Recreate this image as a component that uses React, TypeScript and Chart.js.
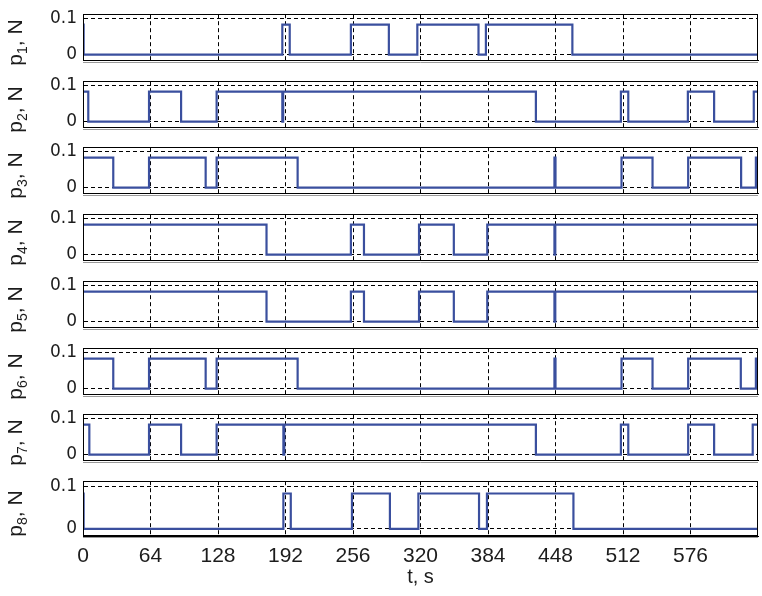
import React, { useEffect, useRef } from 'react';
import { Chart, registerables } from 'chart.js';

Chart.register(...registerables);

// ---------- data ----------
const xTickValues = [0, 64, 128, 192, 256, 320, 384, 448, 512, 576];
const yTickValues = [0, 0.1];
const xMin = 0;
const xMax = 640;
const yMin = -0.017;
const yMax = 0.112;

// switching instants (s) and the level held from each instant (N)
const p1Times = [0, 0.6, 189, 196, 254, 290, 317, 375, 382, 464, 640];
const p1Levels = [0.083, 0, 0.083, 0, 0.083, 0, 0.083, 0, 0.083, 0, 0];

const p2Times = [0, 5, 62.6, 93, 126.7, 189, 189.8, 429.4, 510, 517, 573.5, 598.4, 636, 640];
const p2Levels = [0.083, 0, 0.083, 0, 0.083, 0, 0.083, 0, 0.083, 0, 0.083, 0, 0.083, 0.083];

const p3Times = [0, 28.7, 62.6, 116.3, 126.7, 203.5, 447, 448, 510.6, 540, 573.8, 624, 638, 640];
const p3Levels = [0.083, 0, 0.083, 0, 0.083, 0, 0.083, 0, 0.083, 0, 0.083, 0, 0.083, 0.083];

const p4Times = [0, 174, 254, 266.4, 318.6, 351.6, 383.3, 447, 447.8, 640];
const p4Levels = [0.083, 0, 0.083, 0, 0.083, 0, 0.083, 0, 0.083, 0.083];

const p5Times = [0, 174, 254, 266.4, 318.6, 351.6, 383.3, 447, 447.8, 640];
const p5Levels = [0.083, 0, 0.083, 0, 0.083, 0, 0.083, 0, 0.083, 0.083];

const p6Times = [0, 28.7, 62.6, 116.3, 126.7, 203.5, 447, 448, 510.6, 540, 573.8, 623.7, 638, 640];
const p6Levels = [0.083, 0, 0.083, 0, 0.083, 0, 0.083, 0, 0.083, 0, 0.083, 0, 0.083, 0.083];

const p7Times = [0, 6, 62.6, 93, 126.7, 190, 190.8, 429.4, 510, 517, 573.8, 598.4, 635, 640];
const p7Levels = [0.083, 0, 0.083, 0, 0.083, 0, 0.083, 0, 0.083, 0, 0.083, 0, 0.083, 0.083];

const p8Times = [0, 0.6, 190, 197, 255, 291, 318, 375.5, 383, 465, 640];
const p8Levels = [0.083, 0, 0.083, 0, 0.083, 0, 0.083, 0, 0.083, 0, 0];

const seriesTimes = [p1Times, p2Times, p3Times, p4Times, p5Times, p6Times, p7Times, p8Times];
const seriesLevels = [p1Levels, p2Levels, p3Levels, p4Levels, p5Levels, p6Levels, p7Levels, p8Levels];
const seriesSubscripts = ['1', '2', '3', '4', '5', '6', '7', '8'];
const xTitle = 't, s';

// ---------- layout / style ----------
const W = 762;
const PANEL_TOPS = [6, 73, 139, 206, 273, 340, 406, 473];
const PANEL_H = 63;
const PAD_TOP = 8;
const PAD_BOTTOM = 8;
const LEFT = 83;
const RIGHT_PAD = 4;
const LINE_COLOR = '#3a4f9e';
const TEXT_COLOR = '#1c1c1c';
const FONT = '"Liberation Sans", Arial, sans-serif';

function framePlugin(sub: string) {
  return {
    id: 'frame' + sub,
    afterDraw(chart: any) {
      const { ctx, chartArea } = chart;
      const { left, right, top, bottom } = chartArea;
      ctx.save();
      ctx.strokeStyle = '#000';
      ctx.lineWidth = 1;
      ctx.setLineDash([]);
      ctx.strokeRect(Math.round(left) + 0.5, Math.round(top) + 0.5, Math.round(right - left) - 1, Math.round(bottom - top) - 1);
      ctx.strokeStyle = '#9a9a9a';
      ctx.beginPath();
      ctx.moveTo(left, Math.round(bottom) + 1.5);
      ctx.lineTo(right, Math.round(bottom) + 1.5);
      ctx.stroke();

      // y-axis title with subscript
      const cy = (top + bottom) / 2 + 5;
      ctx.translate(22, cy);
      ctx.rotate(-Math.PI / 2);
      ctx.fillStyle = TEXT_COLOR;
      ctx.textBaseline = 'alphabetic';
      ctx.textAlign = 'left';
      const big = '21px ' + FONT;
      const small = '14px ' + FONT;
      ctx.font = big;
      const wP = ctx.measureText('p').width;
      const wRest = ctx.measureText(', N').width;
      ctx.font = small;
      const wSub = ctx.measureText(sub).width;
      const total = wP + wSub + wRest;
      let x = -total / 2;
      ctx.font = big;
      ctx.fillText('p', x, 0);
      x += wP;
      ctx.font = small;
      ctx.fillText(sub, x, 5);
      x += wSub;
      ctx.font = big;
      ctx.fillText(', N', x, 0);
      ctx.restore();
    },
  };
}

function Panel({ index }: { index: number }) {
  const ref = useRef<HTMLCanvasElement | null>(null);
  const isLast = index === seriesTimes.length - 1;
  const xAxisH = isLast ? 60 : 0;
  const height = PAD_TOP + PANEL_H + (isLast ? xAxisH : PAD_BOTTOM);

  useEffect(() => {
    const canvas = ref.current;
    if (!canvas) return;
    const times = seriesTimes[index];
    const levels = seriesLevels[index];
    const data = times.map((t, i) => ({ x: t, y: levels[i] }));
    const chart = new Chart(canvas, {
      type: 'line',
      data: {
        datasets: [
          {
            data,
            stepped: 'before',
            borderColor: LINE_COLOR,
            borderWidth: 2.2,
            pointRadius: 0,
            fill: false,
          },
        ],
      },
      options: {
        animation: false,
        responsive: false,
        maintainAspectRatio: false,
        devicePixelRatio: 1,
        events: [],
        layout: {
          padding: { left: 0, right: RIGHT_PAD, top: PAD_TOP, bottom: isLast ? 0 : PAD_BOTTOM },
        },
        plugins: { legend: { display: false }, tooltip: { enabled: false }, title: { display: false } },
        scales: {
          x: {
            type: 'linear',
            min: xMin,
            max: xMax,
            afterBuildTicks: (s: any) => {
              s.ticks = xTickValues.map((v) => ({ value: v }));
            },
            afterFit: (s: any) => {
              s.height = xAxisH;
            },
            grid: { color: '#000', lineWidth: 1, drawTicks: false },
            border: { display: true, color: '#000', width: 1, dash: [4, 3] },
            ticks: {
              display: isLast,
              padding: 8,
              color: TEXT_COLOR,
              font: { family: FONT, size: 21 },
              maxRotation: 0,
              autoSkip: false,
              callback: (v: any) => String(v),
            },
            title: {
              display: isLast,
              text: xTitle,
              color: TEXT_COLOR,
              font: { family: FONT, size: 20 },
              padding: { top: 0, bottom: 7 },
            },
          },
          y: {
            type: 'linear',
            min: yMin,
            max: yMax,
            afterBuildTicks: (s: any) => {
              s.ticks = yTickValues.map((v) => ({ value: v }));
            },
            afterFit: (s: any) => {
              s.width = LEFT;
            },
            grid: { color: '#000', lineWidth: 1, drawTicks: false },
            border: { display: true, color: '#000', width: 1, dash: [4, 3] },
            ticks: {
              padding: 6,
              color: TEXT_COLOR,
              font: { family: '"DejaVu Sans", sans-serif', size: 17 },
              callback: (v: any) => (v === 0 ? '0' : '0.1'),
            },
          },
        },
      },
      plugins: [framePlugin(seriesSubscripts[index])],
    } as any);
    return () => chart.destroy();
  }, [index]);

  return (
    <canvas
      ref={ref}
      width={W}
      height={height}
      style={{ position: 'absolute', left: 0, top: PANEL_TOPS[index] - PAD_TOP, width: W, height }}
    />
  );
}

export default function App() {
  return (
    <div style={{ position: 'absolute', left: 0, top: 0, width: W, height: 596, background: '#fff' }}>
      {seriesTimes.map((_, i) => (
        <Panel key={i} index={i} />
      ))}
    </div>
  );
}
